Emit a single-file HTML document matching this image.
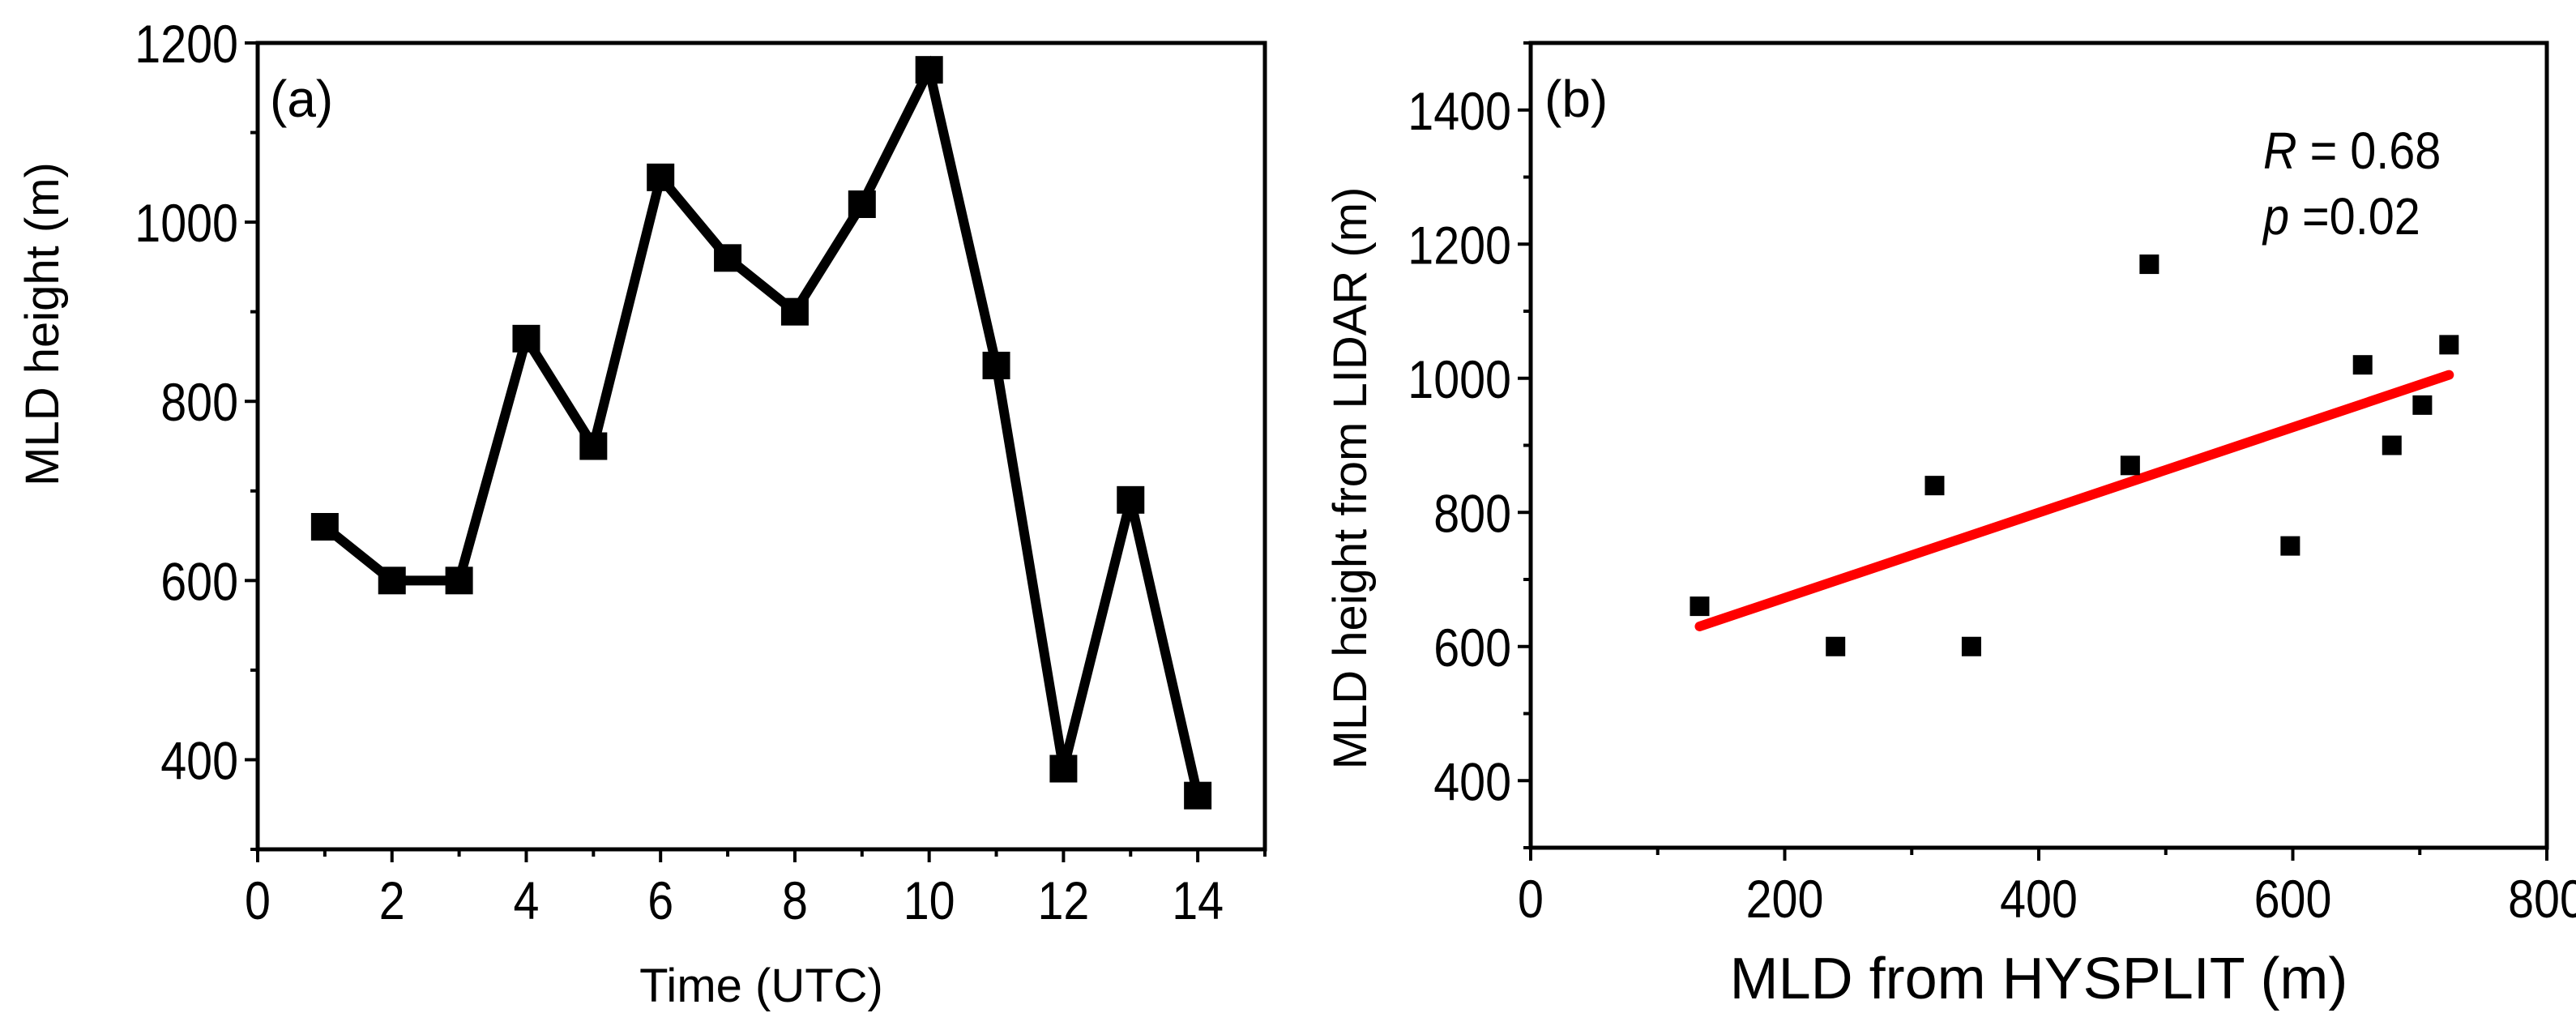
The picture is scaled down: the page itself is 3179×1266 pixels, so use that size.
<!DOCTYPE html>
<html><head><meta charset="utf-8"><style>
html,body{margin:0;padding:0;background:#fff}
svg{display:block;font-family:"Liberation Sans",Arial,sans-serif}
</style></head><body>
<svg id="c" width="3179" height="1266" viewBox="0 0 3179 1266"></svg>
<script>
const timeHours=[1,2,3,4,5,6,7,8,9,10,11,12,13,14];
const mldLidar=[660,600,600,870,750,1050,960,900,1020,1170,840,390,690,360];
const aXTicks=[0,2,4,6,8,10,12,14];
const aYTicks=[400,600,800,1000,1200];
const hysplitX=[133,240,318,347,472,487,598,655,678,702,723];
const lidarY=[660,600,840,600,870,1170,750,1020,900,960,1050];
const fitX=[133,723];
const fitY=[630,1005];
const bXTicks=[0,200,400,600,800];
const bYTicks=[400,600,800,1000,1200,1400];

const NS="http://www.w3.org/2000/svg";
const svg=document.getElementById('c');
function mk(tag,attrs,parent){const e=document.createElementNS(NS,tag);for(const k in attrs)e.setAttribute(k,attrs[k]);(parent||svg).appendChild(e);return e;}
function txt(s,attrs,parent){const e=mk('text',attrs,parent);e.textContent=s;return e;}

function axes(name,L,R,T,B,x0,x1,y0,y1,xt,yt,xminor,yminor){
  const g=mk('g',{});
  
  
  const sx=v=>L+(v-x0)/(x1-x0)*(R-L);
  const sy=v=>B-(v-y0)/(y1-y0)*(B-T);
  const fr=mk('rect',{x:L,y:T,width:R-L,height:B-T,fill:'none',stroke:'#000','stroke-width':5},g);
  
  
  for(let v=x0;v<=x1+1e-9;v+=xminor){const maj=xt.includes(v);mk('line',{x1:sx(v),x2:sx(v),y1:B,y2:B+(maj?16:9),stroke:'#000','stroke-width':4},g);}
  for(let v=y0;v<=y1+1e-9;v+=yminor){const maj=yt.includes(v);mk('line',{x1:L,x2:L-(maj?16:9),y1:sy(v),y2:sy(v),stroke:'#000','stroke-width':4},g);}
  xt.forEach(v=>{const t=txt(String(v),{x:0,y:0,'font-size':66,'text-anchor':'middle',transform:`translate(${sx(v)},${B+86}) scale(0.87,1)`},g);
    
    });
  yt.forEach(v=>{const t=txt(String(v),{x:0,y:0,'font-size':66,'text-anchor':'end',transform:`translate(${L-24},${sy(v)+24}) scale(0.87,1)`},g);
    
    });
  return {sx,sy};
}

// Panel a
const A=axes('panel-a',318,1561,53,1048,0,15,300,1200,aXTicks,aYTicks,1,100);
let pts=timeHours.map((t,i)=>A.sx(t)+','+A.sy(mldLidar[i])).join(' ');
const pl=mk('polyline',{points:pts,fill:'none',stroke:'#000','stroke-width':12,'stroke-linejoin':'miter'});


timeHours.forEach((t,i)=>{const r=mk('rect',{x:A.sx(t)-17,y:A.sy(mldLidar[i])-17,width:34,height:34,fill:'#000'});
  
  });
let t=txt('(a)',{x:333,y:144,'font-size':64});


t=txt('Time (UTC)',{x:A.sx(7.5),y:1236,'font-size':58,'text-anchor':'middle'});


t=txt('MLD height (m)',{x:0,y:0,'font-size':58,'text-anchor':'middle',transform:'translate(72,400) rotate(-90)'});



// Panel b
const B=axes('panel-b',1889,3143,53,1046,0,800,300,1500,bXTicks,bYTicks,100,100);
const fl=mk('line',{x1:B.sx(fitX[0]),y1:B.sy(fitY[0]),x2:B.sx(fitX[1]),y2:B.sy(fitY[1]),stroke:'#ff0000','stroke-width':12,'stroke-linecap':'round'});


hysplitX.forEach((x,i)=>{const r=mk('rect',{x:B.sx(x)-12,y:B.sy(lidarY[i])-12,width:24,height:24,fill:'#000'});
  
  });
t=txt('(b)',{x:1906,y:144,'font-size':64});


t=mk('text',{x:0,y:0,'font-size':64,transform:'translate(2793,208) scale(0.9,1)'});
t.innerHTML='<tspan font-style="italic">R</tspan> = 0.68';


t=mk('text',{x:0,y:0,'font-size':64,transform:'translate(2793,289) scale(0.9,1)'});
t.innerHTML='<tspan font-style="italic">p</tspan> =0.02';


t=txt('MLD from HYSPLIT (m)',{x:B.sx(400),y:1232,'font-size':72,'text-anchor':'middle'});


t=txt('MLD height from LIDAR (m)',{x:0,y:0,'font-size':58,'text-anchor':'middle',transform:'translate(1686,590) rotate(-90)'});


</script>
</body></html>
